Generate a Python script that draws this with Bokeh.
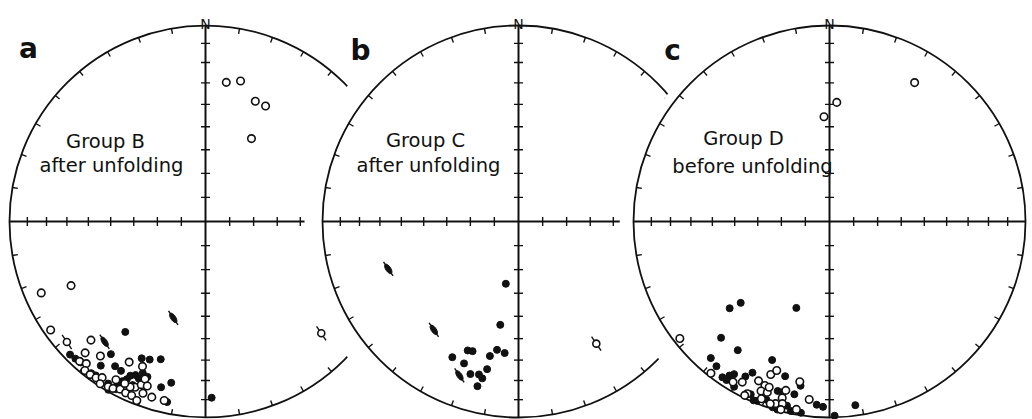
import math
from bokeh.plotting import figure
from bokeh.models import Range1d
from bokeh.embed import file_html
from bokeh.resources import INLINE
from bokeh.core.properties import value

# Palaeomagnetic directions: (declination, inclination) in degrees.
# Positive inclination -> lower hemisphere (solid), negative -> upper (open).

# --- Group B, after unfolding
b_low_dec = [216, 215.5, 212, 205, 202, 198, 192, 195, 192, 178, 225.5, 223.5, 221.5,
             217, 215.5, 211, 208, 207.5, 206.5, 206, 204.5, 203, 202.5, 210, 208,
             209.5, 204, 200.5, 216]
b_low_inc = [31, 18, 14, 24, 25, 27, 17, 13.5, 6.5, 11, 3.5, 4, 4.5,
             3.5, 4, 4, 6, 9, 11, 13.5, 15, 14, 17.5, 1, 3.5,
             13.5, 9.5, 16.5, 10]
b_up_dec = [8.5, 14, 22.5, 27.5, 29, 246.5, 244.5, 235, 224, 222.5, 218, 208.5, 203.5,
            222, 220, 219, 217, 215, 213.5, 213, 210.5, 209, 207, 205, 203, 201,
            203, 201.5, 201, 199.5, 197, 193, 204.5, 200, 209.5, 206.5]
b_up_inc = [-29, -27, -34, -34, -50, -9.5, -25, -4, -17, -10, -14, -19.5, -20.5,
            -4.5, -6, -2.5, -2.5, -3, -5, -1.5, -2.5, -3, -4.5, -4, -4, -2.5,
            -9, -11.5, -15, -12, -7, -7, -8, -7.5, -8, -8.5]
b_oval_dec = [220, 198.5, 134, 229]
b_oval_inc = [21, 47, -19, -7]

# --- Group C, after unfolding
c_low_dec = [191.5, 190, 206, 201.5, 199.5, 201, 192, 189.5, 186, 197.5, 194.5, 193, 192, 194]
c_low_inc = [63.5, 45.5, 24, 30, 30.5, 23.5, 30.5, 34, 33, 19.5, 20.5, 19, 24, 14.5]
c_up_dec = []
c_up_inc = []
c_oval_dec = [250, 218, 201, 147.5]
c_oval_inc = [30, 30.5, 17, -27]

# --- Group D, before unfolding
d_low_dec = [229, 227.5, 201, 223, 215.5, 221, 218, 202.5, 196, 207, 214.5, 213, 212,
             213, 208.5, 210, 204.5, 202, 199.5, 197, 195.5, 191.5, 190, 197, 195.5,
             193, 188.5, 184, 182, 178.5, 172, 201.5, 203, 191.5]
d_low_inc = [33, 38.5, 51, 20, 20.5, 8.5, 7, 24.5, 19, 14.5, 4, 7, 9,
             4, 11, 3, 3.5, 1.5, 4, 10.5, 10.5, 11, 16, 1, 0.5,
             4, 1.5, 7, 6, 1, 6, 7, 1, 1.5]
d_up_dec = [31.5, 3.5, 357, 232, 218, 211, 208.5, 204, 201, 199.5, 201.5, 202, 200,
            194.5, 195, 205.5, 201, 196.5, 198, 194.5, 190.5, 190, 186.5, 194.5, 206, 200]
d_up_inc = [-18, -39, -45.5, -3.5, -2, -5, -7.5, -12, -17.5, -20.5, -11, -7.5, -8,
            -12, -7.5, -3, -3.5, -3.5, -2.5, -4.5, -18, -3, -9.5, -1, -1.5, -11]
d_oval_dec = []
d_oval_inc = []

panel_letters = ["a", "b", "c"]
panel_titles = [["Group B", "after unfolding"],
                ["Group C", "after unfolding"],
                ["Group D", "before unfolding"]]

# ---- net layout (screen-like units, y grows downward)
W, H = 1032, 419
R = 196.0
nets = [
    dict(cx=205, cy=221, mask=None,
         low=(b_low_dec, b_low_inc), up=(b_up_dec, b_up_inc), oval=(b_oval_dec, b_oval_inc),
         letter_xy=(28, 48), title_xy=[(105, 141), (111, 165)]),
    dict(cx=518, cy=221, mask=(540, 221, 236),
         low=(c_low_dec, c_low_inc), up=(c_up_dec, c_up_inc), oval=(c_oval_dec, c_oval_inc),
         letter_xy=(360, 50), title_xy=[(425, 140), (428, 165)]),
    dict(cx=829, cy=221, mask=(842, 232, 223),
         low=(d_low_dec, d_low_inc), up=(d_up_dec, d_up_inc), oval=(d_oval_dec, d_oval_inc),
         letter_xy=(672, 50), title_xy=[(743, 138), (752, 166)]),
]

INK = "#111111"
FONT = value("DejaVu Sans")


def schmidt(dec, inc, cx, cy):
    """Equal-area (Schmidt) projection of a direction onto a net."""
    xs, ys = [], []
    for d, i in zip(dec, inc):
        r = R * math.sqrt(2) * math.sin(math.radians(90 - abs(i)) / 2)
        xs.append(cx + r * math.sin(math.radians(d)))
        ys.append(cy - r * math.cos(math.radians(d)))
    return xs, ys


p = figure(width=W, height=H, x_range=Range1d(0, W), y_range=Range1d(H, 0),
           output_backend="svg", toolbar_location=None, min_border=0)
p.axis.visible = False
p.grid.visible = False
p.outline_line_color = None
p.background_fill_color = "white"
p.border_fill_color = "white"

for k, net in enumerate(nets):
    cx, cy = net["cx"], net["cy"]

    # paper of this net covers the previous one
    if net["mask"] is not None:
        mx, my, mr = net["mask"]
        p.circle(x=[mx], y=[my], radius=mr, fill_color="white", line_color=None)

    # primitive circle
    p.circle(x=[cx], y=[cy], radius=R, fill_color=None, line_color=INK, line_width=1.8)

    # N-S and E-W diameters
    p.multi_line(xs=[[cx, cx], [cx - R, cx + R]], ys=[[cy - R, cy + R], [cy, cy]],
                 line_color=INK, line_width=2)

    # dip ticks every 10 degrees along the diameters
    txs, tys = [], []
    for j in range(1, 9):
        rr = R * math.sqrt(2) * math.sin(math.radians(5 * j))
        for s in (-1, 1):
            txs.append([cx - 4.5, cx + 4.5]); tys.append([cy + s * rr, cy + s * rr])
            txs.append([cx + s * rr, cx + s * rr]); tys.append([cy - 4.5, cy + 4.5])
    # azimuth ticks every 10 degrees on the primitive
    for az in range(10, 360, 10):
        if az % 90 == 0:
            continue
        a = math.radians(az)
        txs.append([cx + R * math.sin(a), cx + (R - 5.5) * math.sin(a)])
        tys.append([cy - R * math.cos(a), cy - (R - 5.5) * math.cos(a)])
    p.multi_line(xs=txs, ys=tys, line_color=INK, line_width=1.4)

    # directions
    lx, ly = schmidt(*net["low"], cx, cy)
    p.scatter(x=lx, y=ly, marker="circle", size=7, fill_color=INK, line_color=INK)
    ux, uy = schmidt(*net["up"], cx, cy)
    p.scatter(x=ux, y=uy, marker="circle", size=7.5, fill_color="white",
              line_color=INK, line_width=1.6)

    # elongated symbols
    odec, oinc = net["oval"]
    ox, oy = schmidt(odec, oinc, cx, cy)
    tilt = math.radians(56)
    hx, hy = 8.5 * math.cos(tilt), 8.5 * math.sin(tilt)
    if ox:
        p.multi_line(xs=[[x - hx, x + hx] for x in ox], ys=[[y - hy, y + hy] for y in oy],
                     line_color=INK, line_width=1.4)
    fx = [x for x, i in zip(ox, oinc) if i >= 0]
    fy = [y for y, i in zip(oy, oinc) if i >= 0]
    if fx:
        p.ellipse(x=fx, y=fy, width=11, height=5, angle=-tilt,
                  fill_color=INK, line_color=INK)
    ex = [x for x, i in zip(ox, oinc) if i < 0]
    ey = [y for y, i in zip(oy, oinc) if i < 0]
    if ex:
        p.scatter(x=ex, y=ey, marker="circle", size=7, fill_color="white",
                  line_color=INK, line_width=1.6)

    # north label, panel letter, title
    p.text(x=[cx], y=[cy - R - 2], text=["N"], text_font=FONT, text_font_size=value("14px"),
           text_align="center", text_baseline="alphabetic", text_color=INK)
    lx0, ly0 = net["letter_xy"]
    p.text(x=[lx0], y=[ly0], text=[panel_letters[k]], text_font=FONT,
           text_font_size=value("28px"), text_font_style="bold",
           text_align="center", text_baseline="alphabetic", text_color=INK)
    (t1x, t1y), (t2x, t2y) = net["title_xy"]
    p.text(x=[t1x, t2x], y=[t1y, t2y], text=panel_titles[k], text_font=FONT,
           text_font_size=value("19.5px"), text_align="center",
           text_baseline="alphabetic", text_color=INK)

open("out.html", "w").write(file_html(p, INLINE))
